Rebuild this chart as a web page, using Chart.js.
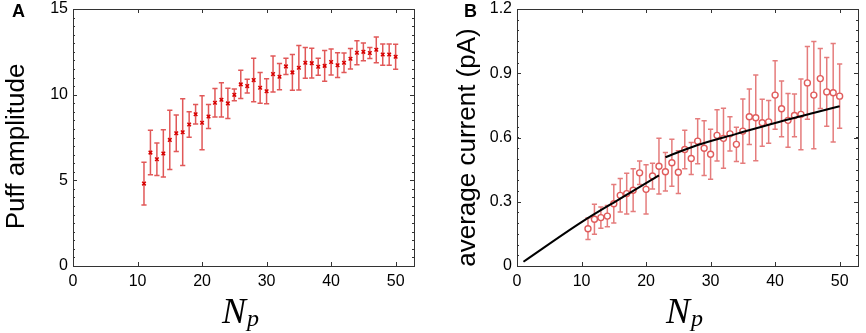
<!DOCTYPE html>
<html>
<head>
<meta charset="utf-8">
<script src="https://cdn.jsdelivr.net/npm/chart.js@4"></script>
<style>
  html, body { margin: 0; padding: 0; background: #fff; }
  #wrap { position: relative; width: 866px; height: 333px; overflow: hidden; }
  .pane { position: absolute; top: 0; width: 433px; height: 333px; }
  #paneA { left: 0; }
  #paneB { left: 433px; }
  .frame { position: absolute; box-sizing: border-box; border: 1px solid #333; pointer-events: none; }
  #status { position: absolute; left: 0; top: 0; width: 1px; height: 1px; overflow: hidden; color: #fff; font-size: 1px; }
</style>
</head>
<body>
<div id="wrap">
  <div class="pane" id="paneA"><canvas id="chartA" width="433" height="333"></canvas><div class="frame" id="frameA"></div></div>
  <div class="pane" id="paneB"><canvas id="chartB" width="433" height="333"></canvas><div class="frame" id="frameB"></div></div>
  <div id="status"></div>
</div>
<script>
// ---------------- DATA ----------------
const Np = [11,12,13,14,15,16,17,18,19,20,21,22,23,24,25,26,27,28,29,30,
            31,32,33,34,35,36,37,38,39,40,41,42,43,44,45,46,47,48,49,50];

// Panel A: puff amplitude (mean) and error half-widths
const puffAmp = [4.81,6.62,6.23,6.57,7.36,7.75,7.81,8.26,8.86,8.36,
                 8.73,9.53,9.70,9.49,9.99,10.60,10.50,10.85,10.40,10.20,
                 11.20,11.05,11.65,11.30,11.57,11.86,11.84,11.63,11.68,11.91,
                 11.72,11.86,12.10,12.45,12.50,12.43,12.62,12.34,12.34,12.21];
const puffErr = [1.25,1.30,0.95,1.38,1.73,1.07,1.95,0.74,0.57,1.57,
                 0.70,0.83,1.00,0.88,0.34,0.83,0.40,1.27,0.90,0.73,
                 1.05,0.77,0.48,1.04,1.30,0.90,0.87,0.50,0.90,0.76,
                 0.72,0.57,0.60,0.70,0.52,0.32,0.75,0.62,0.62,0.73];

// Panel B: average current (pA) and error half-widths
const avgCurrent = [0.174,0.218,0.226,0.233,0.291,0.330,0.338,0.354,0.435,0.358,
                    0.420,0.466,0.440,0.482,0.438,0.544,0.502,0.583,0.550,0.522,
                    0.610,0.596,0.617,0.568,0.630,0.697,0.692,0.669,0.673,0.798,
                    0.734,0.680,0.703,0.708,0.855,0.798,0.875,0.813,0.809,0.793];
const currentErr = [0.050,0.070,0.050,0.050,0.090,0.078,0.095,0.100,0.055,0.115,
                    0.060,0.130,0.090,0.110,0.100,0.090,0.075,0.105,0.128,0.117,
                    0.120,0.140,0.080,0.080,0.150,0.130,0.200,0.110,0.100,0.160,
                    0.130,0.125,0.100,0.165,0.170,0.250,0.140,0.160,0.230,0.150];

// Panel B: fitted black curves
const fit1N = [1, 10, 16, 22];
const fit1Y = [0.020, 0.205, 0.315, 0.423];
const fit2N = [23, 28, 34, 40, 50];
const fit2Y = [0.508, 0.565, 0.617, 0.668, 0.746];

// Axis ticks / labels
const xTicks = [0, 10, 20, 30, 40, 50];
const yTicksA = [0, 5, 10, 15];
const yTicksB = [0, 0.3, 0.6, 0.9, 1.2];
const yTickLabelsB = ['0', '0.3', '0.6', '0.9', '1.2'];
const yTitleA = 'Puff amplitude';
const yTitleB = 'average current (pA)';
const panelLetters = ['A', 'B'];

// ---------------- PLUGINS ----------------
const SANS = '"Liberation Sans", Arial, Helvetica, sans-serif';
const SERIF = '"Liberation Serif", "Times New Roman", serif';
const FRAME = '#333333';

const errorBars = {
  id: 'errorBars',
  beforeDatasetsDraw(chart) {
    const ctx = chart.ctx;
    const x = chart.scales.x, y = chart.scales.y;
    ctx.save();
    chart.data.datasets.forEach(ds => {
      if (!ds.errors) return;
      ctx.strokeStyle = ds.errColor;
      ctx.lineWidth = 1.5;
      const cap = 2.6;
      ds.data.forEach((p, j) => {
        const e = ds.errors[j];
        const px = x.getPixelForValue(p.x);
        const t = y.getPixelForValue(p.y + e);
        const b = y.getPixelForValue(p.y - e);
        ctx.beginPath();
        ctx.moveTo(px, t); ctx.lineTo(px, b);
        ctx.moveTo(px - cap, t); ctx.lineTo(px + cap, t);
        ctx.moveTo(px - cap, b); ctx.lineTo(px + cap, b);
        ctx.stroke();
      });
    });
    ctx.restore();
  }
};

function hline(ctx, x1, x2, y) { ctx.fillRect(Math.min(x1, x2), y, Math.abs(x2 - x1), 1); }
function vline(ctx, x, y1, y2) { ctx.fillRect(x, Math.min(y1, y2), 1, Math.abs(y2 - y1)); }

const frameAndText = {
  id: 'frameAndText',
  afterDraw(chart, args, opts) {
    const ctx = chart.ctx;
    const a = chart.chartArea;
    const x = chart.scales.x, y = chart.scales.y;
    ctx.save();
    ctx.fillStyle = '#000';
    // y title
    ctx.save();
    ctx.font = '26px ' + SANS;
    ctx.textAlign = 'center';
    ctx.textBaseline = 'middle';
    ctx.translate(opts.yTitleX, (a.top + a.bottom) / 2 + opts.yTitleShift);
    ctx.rotate(-Math.PI / 2);
    ctx.fillText(opts.yTitle, 0, 0);
    ctx.restore();

    // x title N_p
    const cx = (a.left + a.right) / 2;
    ctx.textAlign = 'left';
    ctx.textBaseline = 'alphabetic';
    ctx.font = 'italic 36px ' + SERIF;
    const nx = cx - 22;
    ctx.fillText('N', nx, 323);
    const nw = ctx.measureText('N').width;
    ctx.font = 'italic 24px ' + SERIF;
    ctx.fillText('p', nx + nw + 1, 326);

    // panel letter
    ctx.font = 'bold 18px ' + SANS;
    ctx.fillText(opts.letter, opts.letterX, 17);

    // inward ticks
    ctx.fillStyle = FRAME;
    const L = Math.round(a.left), R = Math.round(a.right) - 1;
    const T = Math.round(a.top), B = Math.round(a.bottom);
    hline(ctx, L, R + 1, T);
    hline(ctx, L, R + 1, B);
    vline(ctx, L, T, B + 1);
    vline(ctx, R, T, B + 1);
    x.ticks.forEach(t => {
      const px = Math.round(x.getPixelForValue(t.value));
      vline(ctx, px, B - 4, B);
      vline(ctx, px, T, T + 4);
    });
    y.ticks.forEach(t => {
      const py = Math.round(y.getPixelForValue(t.value));
      hline(ctx, L, L + 4, py);
      hline(ctx, R - 4, R, py);
    });
    const step = opts.minorStep;
    const n = Math.round((y.max - y.min) / step);
    for (let k = 0; k <= n; k++) {
      const py = Math.round(y.getPixelForValue(y.min + k * step));
      hline(ctx, L, L + 2, py);
      hline(ctx, R - 2, R, py);
    }
    ctx.restore();

    // frame overlay positioned from the chart's own chart area
    const f = document.getElementById(opts.frameId);
    if (f) {
      f.style.left = L + 'px';
      f.style.top = T + 'px';
      f.style.width = (R - L + 1) + 'px';
      f.style.height = (B - T + 1) + 'px';
    }
    const st = document.getElementById('status');
    st.textContent = (st.textContent || '') + opts.letter;
  }
};

function makeOptions(cfg) {
  return {
    responsive: false,
    animation: false,
    devicePixelRatio: 1,
    layout: { padding: { left: 0, right: cfg.padRight, top: 9, bottom: 0 } },
    plugins: {
      legend: { display: false },
      tooltip: { enabled: false },
      frameAndText: cfg.frame
    },
    scales: {
      x: {
        type: 'linear', min: 0, max: 53,
        grid: { display: false, drawTicks: false },
        border: { display: false },
        ticks: { font: { family: SANS, size: 16 }, color: '#000', padding: 6, maxRotation: 0 },
        afterBuildTicks: s => { s.ticks = xTicks.map(v => ({ value: v })); },
        afterFit: s => { s.height = 67; s.paddingLeft = 0; s.paddingRight = 0; }
      },
      y: {
        type: 'linear', min: cfg.yMin, max: cfg.yMax,
        grid: { display: false, drawTicks: false },
        border: { display: false },
        ticks: {
          font: { family: SANS, size: 16 }, color: '#000', padding: 5,
          callback: cfg.yLabel
        },
        afterBuildTicks: s => { s.ticks = cfg.yTicks.map(v => ({ value: v })); },
        afterFit: s => { s.width = cfg.yWidth; s.paddingTop = 0; s.paddingBottom = 0; }
      }
    }
  };
}

// ---------------- CHART A ----------------
new Chart(document.getElementById('chartA'), {
  type: 'scatter',
  data: {
    datasets: [{
      data: Np.map((n, i) => ({ x: n, y: puffAmp[i] })),
      errors: puffErr,
      errColor: 'rgba(222,70,70,0.9)',
      pointStyle: 'crossRot',
      pointRadius: 2.5,
      borderColor: '#d80000',
      borderWidth: 1.5,
      backgroundColor: '#d80000'
    }]
  },
  options: makeOptions({
    padRight: 18, yWidth: 73, yMin: 0, yMax: 15, yTicks: yTicksA,
    yLabel: v => String(v),
    frame: { minorStep: 0.5, yTitle: yTitleA, yTitleX: 17, yTitleShift: 9, letter: panelLetters[0], letterX: 12, frameId: 'frameA' }
  }),
  plugins: [errorBars, frameAndText]
});

// ---------------- CHART B ----------------
new Chart(document.getElementById('chartB'), {
  type: 'scatter',
  data: {
    datasets: [
      {
        type: 'line',
        data: fit1N.map((n, i) => ({ x: n, y: fit1Y[i] })),
        borderColor: '#000', borderWidth: 2, pointRadius: 0,
        cubicInterpolationMode: 'monotone', fill: false, order: 0
      },
      {
        type: 'line',
        data: fit2N.map((n, i) => ({ x: n, y: fit2Y[i] })),
        borderColor: '#000', borderWidth: 2, pointRadius: 0,
        cubicInterpolationMode: 'monotone', fill: false, order: 0
      },
      {
        data: Np.map((n, i) => ({ x: n, y: avgCurrent[i] })),
        errors: currentErr,
        errColor: 'rgba(226,110,110,0.9)',
        pointStyle: 'circle',
        pointRadius: 3,
        borderColor: '#e05c5c',
        borderWidth: 1.4,
        backgroundColor: '#ffffff',
        order: 1
      }
    ]
  },
  options: makeOptions({
    padRight: 7, yWidth: 84, yMin: 0, yMax: 1.2, yTicks: yTicksB,
    yLabel: (v, i) => yTickLabelsB[i],
    frame: { minorStep: 0.05, yTitle: yTitleB, yTitleX: 35, yTitleShift: 10, letter: panelLetters[1], letterX: 31, frameId: 'frameB' }
  }),
  plugins: [errorBars, frameAndText]
});
</script>
</body>
</html>
